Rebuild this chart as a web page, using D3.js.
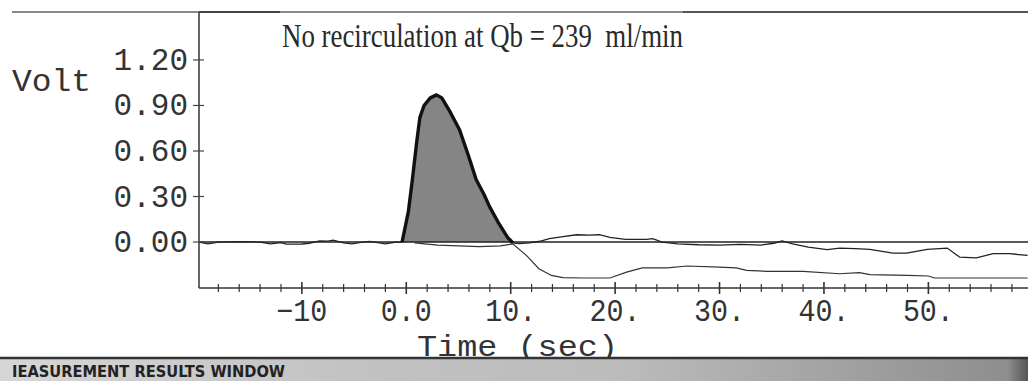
<!DOCTYPE html>
<html><head><meta charset="utf-8">
<script src="https://cdn.jsdelivr.net/npm/d3@7"></script>
<style>html,body{margin:0;padding:0;background:#fff;overflow:hidden}</style>
</head><body><svg id="c" width="1028" height="381"></svg>
<script>
// ---- data ----
const chartTitle = "No recirculation at Qb = 239  ml/min";
const yAxisLabel = "Volt";
const xAxisLabel = "Time (sec)";
const footerText = "IEASUREMENT RESULTS WINDOW";
const yTickValues = [0, 0.3, 0.6, 0.9, 1.2];
const yTickLabels = ["0.00", "0.30", "0.60", "0.90", "1.20"];
const xTickValues = [-10, 0, 10, 20, 30, 40, 50];
const xTickLabels = ["\u221210", "0.0", "10.", "20.", "30.", "40.", "50."];
const xMinorStep = 2;
const peakStart = -0.4, peakEnd = 10.2;
// main trace [time (s), volt]
const mainTrace = [
  [-19.85,0],[-19,-0.012],[-18,0],[-16,0.002],[-14,0],[-13,-0.012],[-12,-0.004],[-11.5,-0.014],
  [-10,-0.013],[-9.3,-0.008],[-8.3,0.008],[-7.5,0.006],[-7,0.012],[-6,-0.006],[-5.2,-0.012],
  [-4.5,-0.004],[-3.5,0.004],[-2,-0.012],[-1,0],[-0.4,0],
  [0.2,0.2],[0.6,0.42],[1.0,0.66],[1.3,0.82],[1.7,0.9],[2.3,0.95],[2.9,0.97],[3.4,0.95],
  [4.1,0.87],[5.1,0.74],[5.9,0.58],[6.7,0.41],[7.4,0.32],[8.0,0.23],[8.8,0.13],[9.7,0.03],[10.2,-0.005],
  [10.8,-0.01],[11.8,-0.005],[12.8,0.005],[13.7,0.022],[15,0.035],[16.3,0.048],[17.5,0.046],
  [18.5,0.048],[19.5,0.031],[21,0.018],[23,0.018],[23.6,0.022],[24.5,0],[26,-0.012],[28,-0.018],
  [30,-0.02],[32,-0.016],[34,-0.02],[35.2,-0.008],[36,0.008],[37,-0.012],[38.5,-0.033],
  [40.3,-0.05],[41.5,-0.04],[43,-0.044],[44.4,-0.048],[46.6,-0.073],[47.9,-0.073],[49.9,-0.048],
  [51.8,-0.04],[53,-0.1],[54.6,-0.104],[56.2,-0.077],[57.8,-0.077],[59.5,-0.088]
];
// lower (recirculation) trace
const lowerTrace = [
  [0.8,-0.005],[3,-0.02],[5,-0.025],[7,-0.03],[9,-0.025],[10.2,-0.012],[11.5,-0.088],[12.7,-0.176],
  [13.9,-0.22],[15,-0.235],[17,-0.237],[19.5,-0.237],[21.1,-0.198],[22.6,-0.171],[25,-0.171],
  [26.9,-0.158],[30,-0.165],[31.6,-0.171],[32.6,-0.187],[34.5,-0.193],[38,-0.193],[41.5,-0.209],
  [43.4,-0.202],[44.4,-0.215],[48,-0.22],[50,-0.224],[50.6,-0.237],[59.5,-0.237]
];

// ---- drawing ----
const svg = d3.select("#c");
const W = 1028, H = 381;
const pLeft = 199, pRight = 1028, pTop = 12, pBottom = 288;
const x = d3.scaleLinear().domain([-19.85, 59.54]).range([pLeft, pRight]);
const y = d3.scaleLinear().domain([-0.303, 1.516]).range([pBottom, pTop]);
const mono = "'Liberation Mono', 'DejaVu Sans Mono', monospace";

// top rule
svg.append("line").attr("x1", 12).attr("x2", W).attr("y1", 12).attr("y2", 12)
  .attr("stroke", "#8a8a8a").attr("stroke-width", 2);
svg.append("line").attr("x1", pLeft).attr("x2", 280).attr("y1", 12).attr("y2", 12)
  .attr("stroke", "#444").attr("stroke-width", 2);
svg.append("line").attr("x1", 683).attr("x2", W).attr("y1", 12).attr("y2", 12)
  .attr("stroke", "#555").attr("stroke-width", 2);

// peak fill
const peakData = mainTrace.filter(d => d[0] >= peakStart && d[0] <= peakEnd);
svg.append("path").datum(peakData)
  .attr("d", d3.area().x(d => x(d[0])).y0(y(0)).y1(d => y(d[1])))
  .attr("fill", "#858585");

// baseline at zero
svg.append("line").attr("x1", pLeft).attr("x2", pRight).attr("y1", y(0)).attr("y2", y(0))
  .attr("stroke", "#222").attr("stroke-width", 1.5);

const line = d3.line().x(d => x(d[0])).y(d => y(d[1]));
svg.append("path").datum(lowerTrace).attr("d", line)
  .attr("fill", "none").attr("stroke", "#333").attr("stroke-width", 1.2);
svg.append("path").datum(mainTrace).attr("d", line)
  .attr("fill", "none").attr("stroke", "#222").attr("stroke-width", 1.3);
svg.append("path").datum(peakData).attr("d", line)
  .attr("fill", "none").attr("stroke", "#111").attr("stroke-width", 3.4)
  .attr("stroke-linejoin", "round");

// axes lines
svg.append("line").attr("x1", pLeft).attr("x2", pLeft).attr("y1", pTop).attr("y2", pBottom)
  .attr("stroke", "#333").attr("stroke-width", 1.5);
svg.append("line").attr("x1", pLeft).attr("x2", pRight).attr("y1", pBottom).attr("y2", pBottom)
  .attr("stroke", "#333").attr("stroke-width", 1.5);

// y ticks + labels
yTickValues.forEach((v, i) => {
  svg.append("line").attr("x1", pLeft - 6).attr("x2", pLeft + 5).attr("y1", y(v)).attr("y2", y(v))
    .attr("stroke", "#444").attr("stroke-width", 1.2);
  svg.append("text").attr("x", 188).attr("y", y(v) + 10).attr("text-anchor", "end")
    .attr("font-family", mono).attr("font-size", 31).attr("fill", "#333")
    .text(yTickLabels[i]);
});

// x ticks
d3.range(-18, 60, xMinorStep).forEach(t => {
  const major = xTickValues.includes(t);
  svg.append("line").attr("x1", x(t)).attr("x2", x(t))
    .attr("y1", pBottom - (major ? 6 : 4)).attr("y2", pBottom + (major ? 6 : 4))
    .attr("stroke", "#333").attr("stroke-width", major ? 1.6 : 1.2);
});
xTickValues.forEach((t, i) => {
  svg.append("text").attr("x", x(t)).attr("y", 321).attr("text-anchor", "middle")
    .attr("font-family", mono).attr("font-size", 31).attr("fill", "#333")
    .attr("textLength", xTickLabels[i].length * 17).attr("lengthAdjust", "spacingAndGlyphs")
    .text(xTickLabels[i]);
});

// axis titles
svg.append("text").attr("x", 12).attr("y", 91)
  .attr("font-family", mono).attr("font-size", 32).attr("fill", "#333")
  .attr("textLength", 79).attr("lengthAdjust", "spacingAndGlyphs").text(yAxisLabel);
svg.append("text").attr("x", 417).attr("y", 356)
  .attr("font-family", mono).attr("font-size", 29).attr("fill", "#333")
  .attr("textLength", 201).attr("lengthAdjust", "spacingAndGlyphs").text(xAxisLabel);

// title
svg.append("text").attr("x", 282).attr("y", 47)
  .attr("font-family", "'Liberation Serif', 'DejaVu Serif', serif").attr("font-size", 33)
  .attr("fill", "#2a2a2a").attr("xml:space", "preserve").style("white-space", "pre")
  .attr("textLength", 401).attr("lengthAdjust", "spacingAndGlyphs").text(chartTitle);

// footer bar
const defs = svg.append("defs");
const g = defs.append("linearGradient").attr("id", "bar").attr("x1", "0").attr("x2", "1");
[[0, "#d6d6d6"], [0.35, "#c2c2c2"], [0.6, "#bcbcbc"], [0.8, "#a4a4a4"], [0.98, "#8e8e8e"], [1, "#555"]]
  .forEach(s => g.append("stop").attr("offset", s[0]).attr("stop-color", s[1]));
svg.append("rect").attr("x", 0).attr("y", 358).attr("width", W).attr("height", H - 358)
  .attr("fill", "url(#bar)");
svg.append("line").attr("x1", 0).attr("x2", W).attr("y1", 358).attr("y2", 358)
  .attr("stroke", "#333").attr("stroke-width", 2.5);
svg.append("text").attr("x", 12).attr("y", 377)
  .attr("font-family", "'DejaVu Sans Condensed', 'DejaVu Sans', sans-serif").attr("font-weight", "bold")
  .attr("font-size", 16).attr("fill", "#222")
  .attr("textLength", 273).attr("lengthAdjust", "spacingAndGlyphs").text(footerText);
</script>
</body></html>
